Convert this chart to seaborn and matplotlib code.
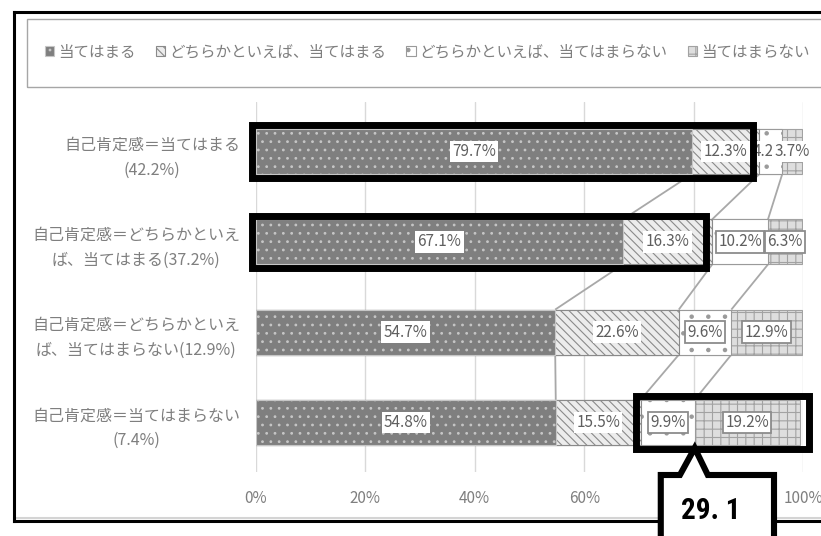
import matplotlib
matplotlib.use("Agg")
import matplotlib.pyplot as plt
import seaborn as sns
import pandas as pd
from matplotlib.patches import Rectangle, Polygon, Patch
from matplotlib.lines import Line2D
from matplotlib import transforms, font_manager

# ---- data ---------------------------------------------------------------
categories = [
    "自己肯定感＝当てはまる\n(42.2%)",
    "自己肯定感＝どちらかといえ\nば、当てはまる(37.2%)",
    "自己肯定感＝どちらかといえ\nば、当てはまらない(12.9%)",
    "自己肯定感＝当てはまらない\n(7.4%)",
]
series_names = [
    "当てはまる",
    "どちらかといえば、当てはまる",
    "どちらかといえば、当てはまらない",
    "当てはまらない",
]
s_yes = [79.7, 67.1, 54.7, 54.8]
s_rather_yes = [12.3, 16.3, 22.6, 15.5]
s_rather_no = [4.2, 10.2, 9.6, 9.9]
s_no = [3.7, 6.3, 12.9, 19.2]
x_ticks = [0, 20, 40, 60, 80, 100]
x_tick_labels = ["0%", "20%", "40%", "60%", "80%", "100%"]

# highlighted groups: (row, first series index, last series index exclusive)
highlights = [(0, 0, 2), (1, 0, 2), (3, 2, 4)]
callout_row = 3
callout_series = (2, 3)

# ---- styling ------------------------------------------------------------
sns.set_theme(style="white")
plt.rcParams["font.family"] = ["Noto Sans CJK JP", "DejaVu Sans"]
plt.rcParams["hatch.linewidth"] = 0.8

installed = {f.name for f in font_manager.fontManager.ttflist}
narrow = next((n for n in ["Liberation Sans Narrow", "Roboto Condensed",
                           "Open Sans Condensed", "Noto Sans CJK JP"]
               if n in installed), "DejaVu Sans")

styles = [
    dict(color="#7f7f7f", hatch="..", edgecolor="#c6c6c6"),
    dict(color="#ececec", hatch="\\\\\\\\", edgecolor="#8a8a8a"),
    dict(color="#ffffff", hatch=".", edgecolor="#9a9a9a"),
    dict(color="#dedede", hatch="++", edgecolor="#a2a2a2"),
]
TEXT_GREY = "#7f7f7f"
LABEL_GREY = "#5f5f5f"

W, H = 821, 536
fig = plt.figure(figsize=(W / 100, H / 100), dpi=100)
ax = fig.add_axes([256 / W, 1 - 472 / H, (803 - 256) / W, (472 - 102) / H])

series = [s_yes, s_rather_yes, s_rather_no, s_no]
lefts, rights = [], []
run = [0.0] * len(categories)
for vals in series:
    lefts.append(list(run))
    run = [a + b for a, b in zip(run, vals)]
    rights.append(list(run))

df = pd.DataFrame({"category": categories})
for k, name in enumerate(series_names):
    df[name] = rights[k]

bar_h = 0.5
# stacked bars: draw cumulative totals from the outermost segment inwards
for k in range(len(series) - 1, -1, -1):
    st = styles[k]
    sns.barplot(data=df, x=series_names[k], y="category", orient="h",
                color=st["color"], saturation=1, width=bar_h,
                hatch=st["hatch"], edgecolor=st["edgecolor"], linewidth=0.8,
                ax=ax, zorder=2)

# series lines between neighbouring bars
for k in range(len(series) - 1):
    for i in range(len(categories) - 1):
        ax.plot([rights[k][i], rights[k][i + 1]],
                [i + bar_h / 2, i + 1 - bar_h / 2],
                color="#a8a8a8", lw=1.3, zorder=1.5, solid_capstyle="butt")

# data labels
for k, vals in enumerate(series):
    for i, v in enumerate(vals):
        xc = lefts[k][i] + v / 2
        edge = "#8c8c8c" if (k >= 2 and v > 5) else "none"
        ax.text(xc, i, f"{v:.1f}%", ha="center", va="center", fontsize=11,
                color=LABEL_GREY, zorder=5,
                bbox=dict(boxstyle="square,pad=0.15", fc="white", ec=edge, lw=1.3))

# highlight frames around grouped segments
for row, a, b in highlights:
    x0 = lefts[a][row] - 0.8
    x1 = rights[b - 1][row] + (1.7 if b == len(series) else -1.2)
    ax.add_patch(Rectangle((x0, row - 0.29), x1 - x0, 0.58, fill=False,
                           ec="black", lw=5, joinstyle="miter", zorder=6,
                           clip_on=False))

# axes cosmetics
ax.set_xlim(0, 100)
ax.set_ylim(3.55, -0.55)
ax.set_xticks(x_ticks, x_tick_labels)
ax.set_xlabel("")
ax.set_ylabel("")
ax.grid(axis="x", color="#d9d9d9", lw=1)
ax.grid(axis="y", visible=False)
ax.set_axisbelow(True)
for sp in ax.spines.values():
    sp.set_visible(False)
ax.tick_params(axis="x", length=0, pad=13, labelsize=11, labelcolor=TEXT_GREY)
ax.tick_params(axis="y", length=0, pad=11.5, labelsize=11.5, labelcolor=TEXT_GREY)
for lbl in ax.get_yticklabels():
    lbl.set_multialignment("center")
    lbl.set_linespacing(1.6)

# legend
handles = [Patch(facecolor=st["color"], hatch=st["hatch"], edgecolor=st["edgecolor"],
                 lw=0.8) for st in styles]
fig.legend(handles, series_names, ncol=4, loc="center left",
           bbox_to_anchor=(45 / W, 1 - 52 / H), frameon=False, fontsize=11.2,
           labelcolor=TEXT_GREY, handlelength=0.6, handleheight=0.6,
           handletextpad=0.25, columnspacing=1.3, borderpad=0, borderaxespad=0)

# chart frame and legend panel
ftr = fig.transFigure
ax.add_patch(Rectangle((27 / W, 1 - 87 / H), 1.0, (87 - 19) / H, fill=False,
                       ec="#a6a6a6", lw=1, transform=ftr, clip_on=False, zorder=1))
ax.add_line(Line2D([14 / W, 1.01], [1 - 518 / H] * 2, color="#d4d4d4", lw=1.5,
                   transform=ftr, clip_on=False, zorder=1))
for xs, ys in [([14 / W, 1.01], [1 - 12 / H] * 2),
               ([14 / W, 14 / W], [1 - 12 / H, 1 - 521 / H]),
               ([14 / W, 1.01], [1 - 521 / H] * 2)]:
    ax.add_line(Line2D(xs, ys, color="black", lw=2.2, transform=ftr,
                       clip_on=False, zorder=7, solid_capstyle="projecting"))

# callout with the combined share of the two negative answers
a, b = callout_series
tip = rights[a][callout_row]
total = series[a][callout_row] + series[b][callout_row]
blend = transforms.blended_transform_factory(ax.transData, ftr)
y_top = 1 - 475 / H
y_tip = 1 - 448 / H
y_bot = -0.05
verts = [(tip - 6.2, y_bot), (tip - 6.2, y_top), (tip - 2.7, y_top), (tip, y_tip),
         (tip + 2.4, y_top), (tip + 14.5, y_top), (tip + 14.5, y_bot)]
ax.add_patch(Polygon(verts, closed=False, fc="white", ec="black", lw=4.4,
                     joinstyle="miter", transform=blend, clip_on=False, zorder=8))
ax.text(tip + 2.9, 1 - 511 / H, f"{total:.1f}".replace(".", ". "),
        transform=blend, ha="center", va="center", fontsize=21,
        fontweight="bold", color="black", zorder=9, family=narrow)

fig.savefig("out.png", dpi=100)
